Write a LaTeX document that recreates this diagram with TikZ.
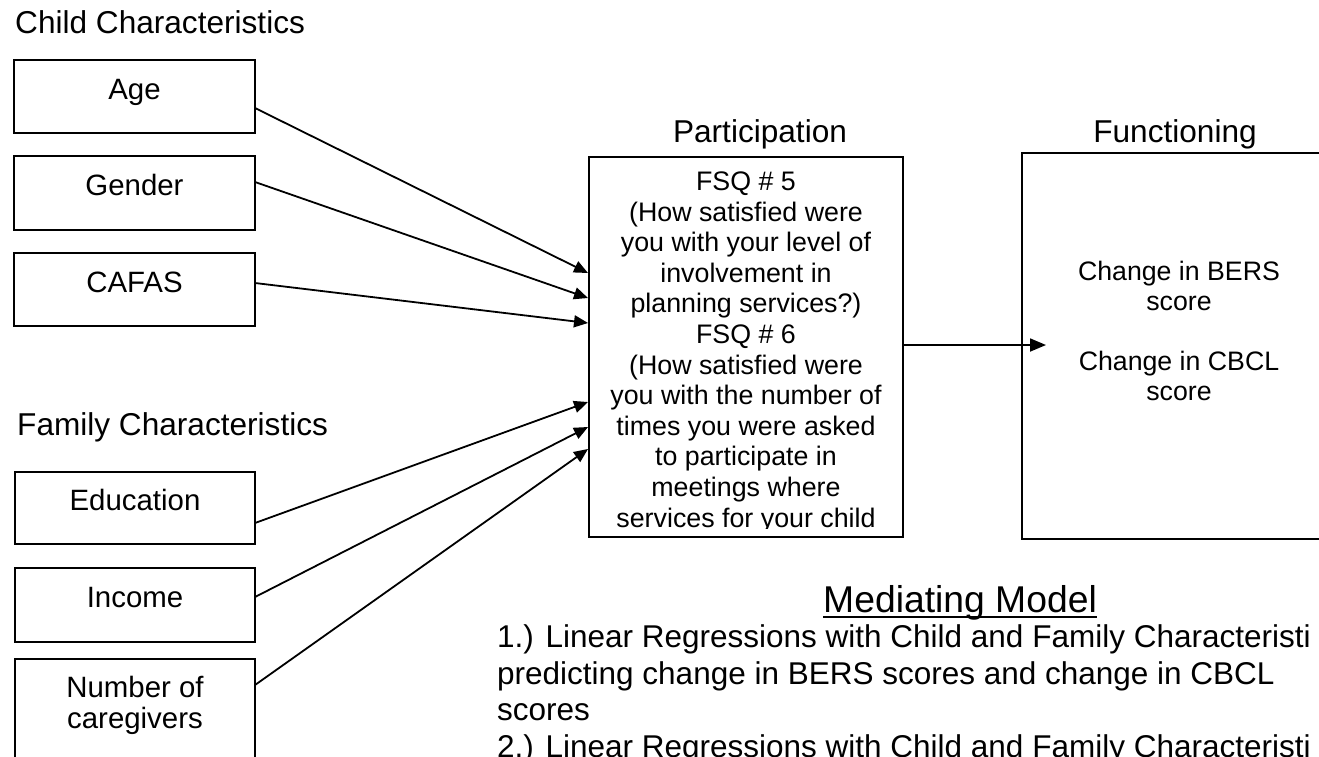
\documentclass[tikz,border=0pt]{standalone}
\usepackage{fontspec}
\setmainfont{Liberation Sans}
\usetikzlibrary{arrows.meta,calc}
\newcommand\fsz[2]{\fontsize{#1pt}{#2pt}\selectfont}
\newsavebox\myulbox
\newcommand\myul[1]{\sbox\myulbox{#1}\rlap{\rule[-6pt]{\wd\myulbox}{2.2pt}}\usebox\myulbox}
\begin{document}
\begin{tikzpicture}[x=1pt,y=-1pt,
  box/.style={draw, line width=2pt, outer sep=0pt, inner sep=0pt, anchor=north west},
  cbox/.style={box, minimum width=241pt, minimum height=73pt, text height=21pt, text depth=16pt, font=\fsz{29.4}{33.8}},
  title/.style={inner sep=0pt, font=\fsz{31.6}{36.3}},
  plain/.style={inner sep=0pt, align=center},
  link/.style={line width=1.8pt, -{Triangle[length=14pt,width=12pt]}},
]
\useasboundingbox (0,0) rectangle (1319,756);
\clip (0,0) rectangle (1319,756);

% Child characteristics
\node[title, anchor=base west] (childT) at (15,33) {Child Characteristics};
\node[cbox] (age) at (14,60) {Age};
\node[cbox, minimum height=74pt] (gender) at (14,156) {Gender};
\node[cbox] (cafas) at (14,253) {CAFAS};

% Family characteristics
\node[title, anchor=base west] (famT) at (17,435) {Family Characteristics};
\node[cbox, minimum width=240pt, minimum height=72pt] (edu) at (15,472) {Education};
\node[cbox, minimum width=240pt, minimum height=74pt] (inc) at (15,568) {Income};
\node[box, minimum width=240pt, minimum height=130pt] (num) at (15,659) {};
\node[plain, anchor=base, font=\fsz{29.4}{31}] (numT) at (135,728) {Number of\\caregivers};

% Participation
\node[title, anchor=base] (partT) at (760,142) {Participation};
\node[box, minimum width=314pt, minimum height=380pt] (fsq) at (589,157) {};
\begin{scope}
\clip ($(fsq.north west)+(2,2)$) rectangle ($(fsq.south east)+(-2,-9)$);
\node[plain, anchor=base, font=\fsz{26.8}{30.6}] (fsqT) at (746,527)
  {FSQ \# 5\\(How satisfied were\\you with your level of\\involvement in\\planning services?)\\FSQ \# 6\\(How satisfied were\\you with the number of\\times you were asked\\to participate in\\meetings where\\services for your child};
\end{scope}

% Functioning
\node[title, anchor=base] (funT) at (1175,142) {Functioning};
\node[box, minimum width=320pt, minimum height=386pt] (fun) at (1022,153) {};
\node[plain, anchor=base, font=\fsz{26.7}{30}] (funText) at (1179,400)
  {Change in BERS\\score\\[30pt]Change in CBCL\\score};

% Connectors
\draw[link] ($(age.north east)+(0,48)$) -- ($(fsq.north west)+(-1,116)$);
\draw[link] ($(gender.north east)+(0,26)$) -- ($(fsq.north west)+(-1,141)$);
\draw[link] ($(cafas.north east)+(0,30)$) -- ($(fsq.north west)+(-1,166)$);
\draw[link] ($(edu.north east)+(0,51)$) -- ($(fsq.north west)+(-1,245)$);
\draw[link] ($(inc.north east)+(0,29)$) -- ($(fsq.north west)+(-1,270)$);
\draw[link] ($(num.north east)+(0,26)$) -- ($(fsq.north west)+(-1,292)$);
\draw[line width=1.8pt, -{Triangle[length=16pt,width=13pt]}] ($(fsq.north east)+(0,188)$) -- ($(fun.north west)+(24,192)$);

% Mediating model
\node[inner sep=0pt, anchor=base west, font=\fsz{37.3}{43}] (medT) at (823,612) {\myul{Mediating Model}};
\node[inner sep=0pt, align=left, anchor=base west, font=\fsz{31.5}{36.4}] (medBody) at (497,757)
  {1.) Linear Regressions with Child and Family Characteristi\\predicting change in BERS scores and change in CBCL\\scores\\2.) Linear Regressions with Child and Family Characteristi};
\end{tikzpicture}
\end{document}
